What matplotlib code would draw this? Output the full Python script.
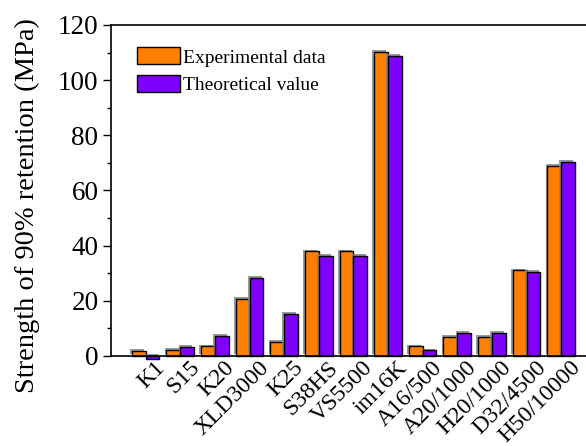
import numpy as np
import matplotlib
matplotlib.use("Agg")
import matplotlib.pyplot as plt
import matplotlib.patheffects as pe
import matplotlib.transforms as mtransforms
from matplotlib.patches import Patch
from matplotlib.ticker import MultipleLocator

plt.rcParams['font.family'] = ['Liberation Serif', 'DejaVu Serif']

labels = ['K1', 'S15', 'K20', 'XLD3000', 'K25', 'S38HS', 'VS5500', 'im16K',
          'A16/500', 'A20/1000', 'H20/1000', 'D32/4500', 'H50/10000']
experimental = [1.9, 2.2, 3.5, 20.7, 5.2, 38.0, 38.0, 110.3, 3.5, 6.9, 6.9, 31.0, 69.0]
theoretical = [-1.1, 3.3, 7.2, 28.4, 15.2, 36.4, 36.4, 108.8, 2.1, 8.5, 8.5, 30.5, 70.4]

c_exp = '#FF8000'
c_theo = '#8000FF'

fig = plt.figure(figsize=(5.86, 4.46), dpi=100)
ax = fig.add_axes([0.1894, 0.2018, 0.8273, 0.7422])

x = np.arange(1, len(labels) + 1)
w = 0.4
shadow = [pe.SimplePatchShadow(offset=(-1.2, 1.2), shadow_rgbFace='0.5', alpha=0.8), pe.Normal()]
b1 = ax.bar(x - w / 2, experimental, w, color=c_exp, edgecolor='black', linewidth=1.0)
b2 = ax.bar(x + w / 2, theoretical, w, color=c_theo, edgecolor='black', linewidth=1.0)
for p in list(b1) + list(b2):
    p.set_path_effects(shadow)
    p.set_clip_on(False)

ax.set_xlim(0, 14)
ax.set_ylim(0, 120)
ax.yaxis.set_major_locator(MultipleLocator(20))
ax.yaxis.set_minor_locator(MultipleLocator(10))
ax.tick_params(axis='y', which='major', direction='out', length=6, width=1, labelsize=19.5, pad=3)
ax.tick_params(axis='y', which='minor', direction='out', length=3, width=1)
ax.tick_params(axis='x', length=0, pad=0)
ax.set_xticks(x)
ax.set_xticklabels(labels, rotation=45, ha='right', rotation_mode='anchor', fontsize=17)
shift = mtransforms.ScaledTranslation(9 / 100, -1 / 100, fig.dpi_scale_trans)
for t in ax.get_xticklabels():
    t.set_transform(t.get_transform() + shift)
ax.set_ylabel('Strength of 90% retention (MPa)', fontsize=20.5)
ax.yaxis.set_label_coords(-0.147, 0.453)

for s in ax.spines.values():
    s.set_linewidth(1.2)

handles = [Patch(facecolor=c_exp, edgecolor='black', label='Experimental data'),
           Patch(facecolor=c_theo, edgecolor='black', label='Theoretical value')]
ax.legend(handles=handles, loc='upper left', bbox_to_anchor=(0.017, 0.985), frameon=False,
          fontsize=14, handlelength=2.2, handleheight=0.95, handletextpad=0.2, labelspacing=0.45)

fig.savefig('out.png', dpi=100)
